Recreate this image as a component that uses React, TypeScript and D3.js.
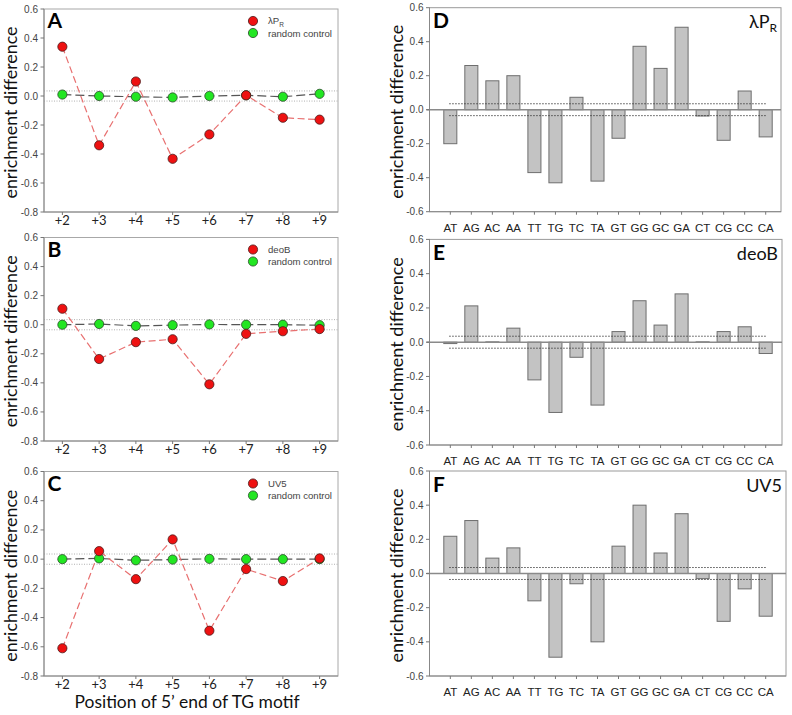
import React from "react";
import * as d3 from "d3";

const positions = ["+2", "+3", "+4", "+5", "+6", "+7", "+8", "+9"];
const lambdaPR = [0.34, -0.34, 0.1, -0.433, -0.265, 0.005, -0.15, -0.163];
const lambdaPRControl = [0.01, 0.0, -0.005, -0.01, 0.0, 0.005, -0.005, 0.015];
const deoB = [0.11, -0.236, -0.12, -0.1, -0.41, -0.063, -0.045, -0.03];
const deoBControl = [0.0, 0.005, -0.008, -0.003, 0.002, 0.0, 0.0, -0.003];
const uv5 = [-0.61, 0.055, -0.137, 0.135, -0.49, -0.068, -0.15, 0.005];
const uv5Control = [0.0, 0.005, -0.008, -0.003, 0.002, 0.0, 0.0, 0.0];

const dinucleotides = ["AT", "AG", "AC", "AA", "TT", "TG", "TC", "TA", "GT", "GG", "GC", "GA", "CT", "CG", "CC", "CA"];
const barsLambdaPR = [-0.2, 0.26, 0.17, 0.2, -0.37, -0.43, 0.073, -0.42, -0.168, 0.373, 0.243, 0.485, -0.037, -0.18, 0.11, -0.16];
const barsDeoB = [-0.008, 0.212, 0.002, 0.082, -0.22, -0.41, -0.088, -0.367, 0.062, 0.242, 0.1, 0.282, 0.002, 0.062, 0.09, -0.066];
const barsUV5 = [0.218, 0.31, 0.09, 0.15, -0.16, -0.49, -0.06, -0.4, 0.16, 0.4, 0.12, 0.35, -0.03, -0.28, -0.09, -0.25];

const yTicksLeft = [0.6, 0.4, 0.2, 0.0, -0.2, -0.4, -0.6, -0.8];
const yTicksRight = [0.6, 0.4, 0.2, 0.0, -0.2, -0.4, -0.6];
const threshold = 0.035;

const fmt = (v: number) => d3.format(".1f")(v).replace("\u2212", "-");

const AXIS_FONT = "'Liberation Sans', Arial, sans-serif";
const CAL_FONT = "Lato, 'Open Sans', sans-serif";

type LineProps = {
  letter: string;
  promoter: React.ReactNode;
  values: number[];
  control: number[];
  top: number;
  bottom: number;
};

function LinePanel({ letter, promoter, values, control, top, bottom }: LineProps) {
  const left = 44;
  const right = 338;
  const x = d3.scalePoint<string>().domain(positions).range([left, right]).padding(0.5);
  const y = d3.scaleLinear().domain([-0.8, 0.6]).range([bottom, top]);
  const line = d3
    .line<number>()
    .x((_, i) => x(positions[i]) as number)
    .y((d) => y(d));
  const mid = (top + bottom) / 2;
  return (
    <g>
      <rect x={left} y={top} width={right - left} height={bottom - top} fill="#fff" stroke="#a8a8a8" strokeWidth={1} />
      {[threshold, -threshold].map((t) => (
        <line key={t} x1={left} x2={right} y1={y(t)} y2={y(t)} stroke="#b0b0b0" strokeWidth={1} strokeDasharray="1,1.5" />
      ))}
      <line x1={left} x2={left} y1={top} y2={bottom} stroke="#888" />
      <line x1={left} x2={right} y1={bottom} y2={bottom} stroke="#888" />
      {yTicksLeft.map((t) => (
        <g key={t}>
          <line x1={left - 3.5} x2={left} y1={y(t)} y2={y(t)} stroke="#777" />
          <text x={left - 6} y={y(t) + 3.5} textAnchor="end" fontSize={10} fontFamily={AXIS_FONT} fill="#444">
            {fmt(t)}
          </text>
        </g>
      ))}
      {positions.map((p) => (
        <g key={p}>
          <line x1={x(p)} x2={x(p)} y1={bottom} y2={bottom + 3} stroke="#777" />
          <text x={x(p)} y={bottom + 12.5} textAnchor="middle" fontSize={13} fontFamily={CAL_FONT} fill="#222">
            {p}
          </text>
        </g>
      ))}
      <path d={line(control) || ""} fill="none" stroke="#555" strokeWidth={1.2} strokeDasharray="9,4" />
      <path d={line(values) || ""} fill="none" stroke="#e87070" strokeWidth={1.2} strokeDasharray="7,3.5" />
      {control.map((v, i) => (
        <circle key={"g" + i} cx={x(positions[i])} cy={y(v)} r={4.6} fill="#22e622" stroke="#2a4a2a" strokeWidth={0.8} />
      ))}
      {values.map((v, i) => (
        <circle key={"r" + i} cx={x(positions[i])} cy={y(v)} r={4.6} fill="#ee1111" stroke="#4a1a1a" strokeWidth={0.8} />
      ))}
      <text x={47.5} y={top + 19} fontSize={21} fontWeight="bold" fontFamily={CAL_FONT} fill="#000">
        {letter}
      </text>
      <circle cx={253} cy={top + 12} r={4.6} fill="#ee1111" stroke="#4a1a1a" strokeWidth={0.8} />
      <circle cx={253} cy={top + 24} r={4.6} fill="#22e622" stroke="#2a4a2a" strokeWidth={0.8} />
      <text x={268} y={top + 15} fontSize={9.6} fontFamily={AXIS_FONT} fill="#444">
        {promoter}
      </text>
      <text x={268} y={top + 27.5} fontSize={9.6} fontFamily={AXIS_FONT} fill="#444">
        random control
      </text>
      <text
        transform={`translate(17,${mid + 2}) rotate(-90)`}
        textAnchor="middle"
        fontSize={18}
        fontFamily={CAL_FONT}
        fill="#111"
        textLength={172}
        lengthAdjust="spacingAndGlyphs"
      >
        enrichment difference
      </text>
    </g>
  );
}

type BarProps = {
  letter: string;
  label: React.ReactNode;
  values: number[];
  top: number;
  bottom: number;
  right: number;
};

function BarPanel({ letter, label, values, top, bottom, right }: BarProps) {
  const left = 429.5;
  const x = d3.scaleBand<string>().domain(dinucleotides).range([439.8, 776.2]).paddingInner(0.38).paddingOuter(0.19);
  const y = d3.scaleLinear().domain([-0.6, 0.6]).range([bottom, top]);
  const bw = x.bandwidth();
  const mid = (top + bottom) / 2;
  const first = (x(dinucleotides[0]) as number) + bw / 2;
  const last = (x(dinucleotides[dinucleotides.length - 1]) as number) + bw / 2;
  return (
    <g>
      <rect x={left} y={top} width={right - left} height={bottom - top} fill="#fff" stroke="#9a9a9a" strokeWidth={1} />
      {values.map((v, i) => (
        <rect
          key={i}
          x={x(dinucleotides[i])}
          y={Math.min(y(v), y(0))}
          width={bw}
          height={Math.abs(y(v) - y(0))}
          fill="#c3c3c3"
          stroke="#6e6e6e"
          strokeWidth={1}
        />
      ))}
      {[threshold, -threshold].map((t) => (
        <line key={t} x1={first - 1} x2={last} y1={y(t)} y2={y(t)} stroke="#333" strokeWidth={1} strokeDasharray="1.3,1.7" />
      ))}
      <line x1={left - 3} x2={right} y1={y(0)} y2={y(0)} stroke="#8a8a8a" strokeWidth={1.4} />
      <line x1={left} x2={left} y1={top} y2={bottom} stroke="#888" />
      <line x1={left} x2={right} y1={bottom} y2={bottom} stroke="#888" />
      {yTicksRight.map((t) => (
        <g key={t}>
          <line x1={left - 3.5} x2={left} y1={y(t)} y2={y(t)} stroke="#777" />
          <text x={left - 6} y={y(t) + 3.5} textAnchor="end" fontSize={10} fontFamily={AXIS_FONT} fill="#444">
            {fmt(t)}
          </text>
        </g>
      ))}
      {dinucleotides.map((c) => (
        <g key={c}>
          <line
            x1={(x(c) as number) + bw / 2}
            x2={(x(c) as number) + bw / 2}
            y1={bottom}
            y2={bottom + 3}
            stroke="#777"
          />
          <text
            x={(x(c) as number) + bw / 2}
            y={bottom + 20}
            textAnchor="middle"
            fontSize={11.5}
            fontFamily={AXIS_FONT}
            fill="#222"
          >
            {c}
          </text>
        </g>
      ))}
      <text x={433} y={top + 20.5} fontSize={21} fontWeight="bold" fontFamily={CAL_FONT} fill="#000">
        {letter}
      </text>
      <text x={right - 4} y={top + 20.5} textAnchor="end" fontSize={18} fontFamily={CAL_FONT} fill="#111">
        {label}
      </text>
      <text
        transform={`translate(403,${mid + 2}) rotate(-90)`}
        textAnchor="middle"
        fontSize={18}
        fontFamily={CAL_FONT}
        fill="#111"
        textLength={174}
        lengthAdjust="spacingAndGlyphs"
      >
        enrichment difference
      </text>
    </g>
  );
}

const lambdaSmall = (
  <>
    λP<tspan fontSize={6.5} dy={2.5}>R</tspan>
  </>
);
const lambdaBig = (
  <>
    λP<tspan fontSize={12} dy={4}>R</tspan>
  </>
);

export default function App() {
  return (
    <svg
      width={792}
      height={715}
      viewBox="0 0 792 715"
      style={{ position: "absolute", left: 0, top: 0, background: "#fff" }}
    >
      <rect x={0} y={0} width={792} height={715} fill="#fff" />
      <LinePanel letter="A" promoter={lambdaSmall} values={lambdaPR} control={lambdaPRControl} top={9} bottom={212} />
      <LinePanel letter="B" promoter="deoB" values={deoB} control={deoBControl} top={237.5} bottom={441} />
      <LinePanel letter="C" promoter="UV5" values={uv5} control={uv5Control} top={471.5} bottom={676} />
      <BarPanel letter="D" label={lambdaBig} values={barsLambdaPR} top={7.7} bottom={211.7} right={781} />
      <BarPanel letter="E" label="deoB" values={barsDeoB} top={239.4} bottom={445} right={782} />
      <BarPanel letter="F" label="UV5" values={barsUV5} top={471} bottom={676} right={786} />
      <text x={187} y={708} textAnchor="middle" fontSize={17} fontFamily={CAL_FONT} fill="#111" textLength={225} lengthAdjust="spacingAndGlyphs">
        Position of 5’ end of TG motif
      </text>
    </svg>
  );
}
